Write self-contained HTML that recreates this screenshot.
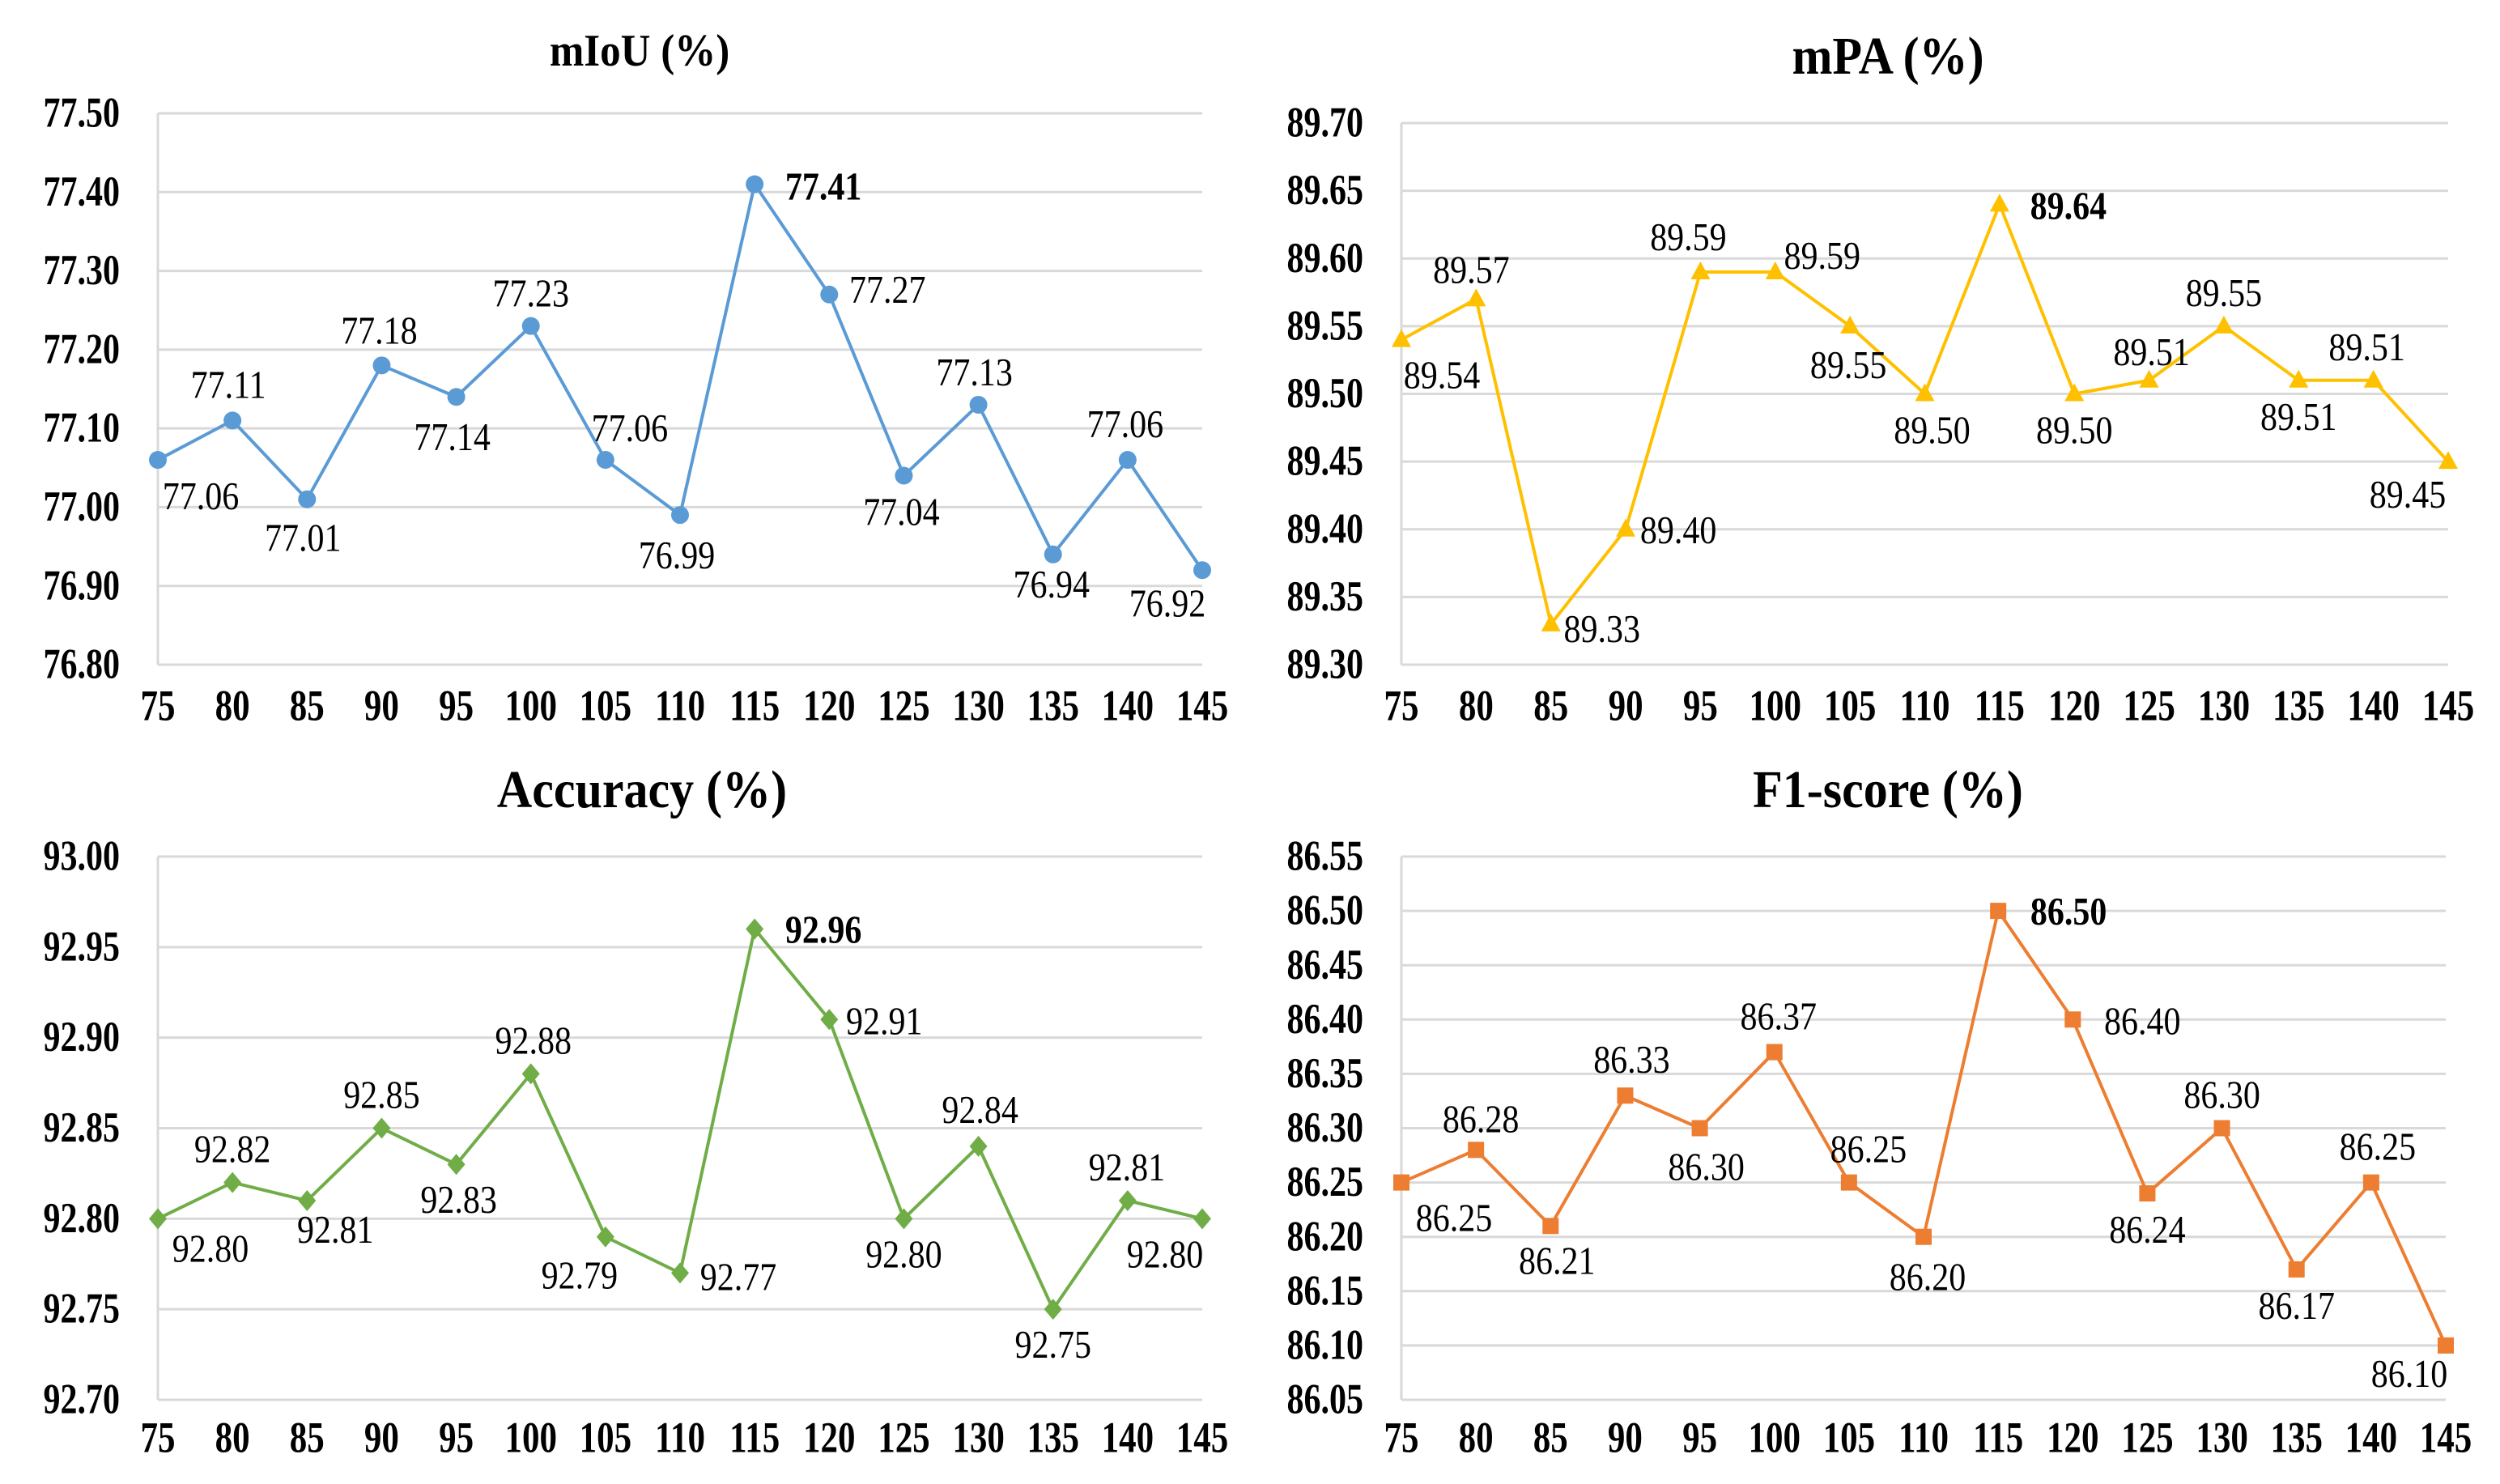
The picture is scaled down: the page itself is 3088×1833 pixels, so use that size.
<!DOCTYPE html>
<html><head><meta charset="utf-8"><style>
html,body{margin:0;padding:0;background:#fff;}
svg{display:block;font-family:"Liberation Serif",serif;}
</style></head><body>
<svg id="c" width="3088" height="1833" viewBox="0 0 3088 1833" xmlns="http://www.w3.org/2000/svg"></svg>
<script>
const categories = [75,80,85,90,95,100,105,110,115,120,125,130,135,140,145];
const miouValues = [77.06,77.11,77.01,77.18,77.14,77.23,77.06,76.99,77.41,77.27,77.04,77.13,76.94,77.06,76.92];
const mpaValues = [89.54,89.57,89.33,89.40,89.59,89.59,89.55,89.50,89.64,89.50,89.51,89.55,89.51,89.51,89.45];
const accValues = [92.80,92.82,92.81,92.85,92.83,92.88,92.79,92.77,92.96,92.91,92.80,92.84,92.75,92.81,92.80];
const f1Values = [86.25,86.28,86.21,86.33,86.30,86.37,86.25,86.20,86.50,86.40,86.24,86.30,86.17,86.25,86.10];
const miouTicks = ["76.80","76.90","77.00","77.10","77.20","77.30","77.40","77.50"];
const mpaTicks = ["89.30","89.35","89.40","89.45","89.50","89.55","89.60","89.65","89.70"];
const accTicks = ["92.70","92.75","92.80","92.85","92.90","92.95","93.00"];
const f1Ticks = ["86.05","86.10","86.15","86.20","86.25","86.30","86.35","86.40","86.45","86.50","86.55"];

const NS="http://www.w3.org/2000/svg";
const svg=document.getElementById('c');
function mk(tag,attrs,parent){const e=document.createElementNS(NS,tag);for(const k in attrs)e.setAttribute(k,attrs[k]);(parent||svg).appendChild(e);return e;}
function txt(parent,x,y,sy,attrs,s){
  const e=mk('text',Object.assign({x:0,y:0,'dominant-baseline':'central',fill:'#000',transform:`translate(${x},${y}) scale(1,${sy})`},attrs),parent);
  e.textContent=s;return e;
}

const panels=[
 {key:'miou',title:'mIoU (%)',tfs:51,vals:miouValues,ticks:miouTicks,color:'#5b9bd5',marker:'circle',
  L:195,R:1485,T:140,B:821,tx:790,ty:62,labR:148,xly:872,
  off:[[53,45],[-5,-44],[-5,48],[-3,-43],[-5,50],[0,-40],[30,-39],[-4,50],[85,3],[72,-6],[-3,45],[-5,-40],[-2,37],[-3,-44],[-43,41]]},
 {key:'mpa',title:'mPA (%)',tfs:60,vals:mpaValues,ticks:mpaTicks,color:'#ffc000',marker:'triangle',
  L:1731,R:3024,T:152,B:821,tx:2332,ty:69,labR:1684,xly:872,
  off:[[50,44],[-6,-36],[63,6],[65,1],[-15,-43],[58,-20],[-2,48],[9,45],[85,2],[0,45],[3,-35],[0,-41],[0,45],[-8,-41],[-50,41]]},
 {key:'accuracy',title:'Accuracy (%)',tfs:60,vals:accValues,ticks:accTicks,color:'#70ad47',marker:'diamond',
  L:195,R:1485,T:1058,B:1729,tx:793,ty:975,labR:148,xly:1776,
  off:[[65,37],[0,-41],[35,36],[0,-41],[3,44],[3,-41],[-32,48],[72,5],[85,1],[68,2],[0,44],[2,-45],[0,44],[-1,-41],[-46,44]]},
 {key:'f1',title:'F1-score (%)',tfs:60,vals:f1Values,ticks:f1Ticks,color:'#ed7d31',marker:'square',
  L:1731,R:3021,T:1058,B:1729,tx:2332,ty:975,labR:1684,xly:1776,
  off:[[65,44],[6,-38],[8,43],[8,-44],[8,48],[5,-44],[24,-41],[5,50],[87,1],[86,2],[0,45],[0,-41],[0,45],[8,-44],[-45,35]]}
];

panels.forEach(p=>{
  const g=mk('g',{});
  
  
  const tmin=parseFloat(p.ticks[0]), tmax=parseFloat(p.ticks[p.ticks.length-1]);
  const y=v=>p.B-(v-tmin)/(tmax-tmin)*(p.B-p.T);
  const x=i=>p.L+i*(p.R-p.L)/(categories.length-1);
  const t=txt(g,p.tx,p.ty,1.1,{'text-anchor':'middle','font-size':p.tfs,'font-weight':'bold'},p.title);
  
  
  p.ticks.forEach(tk=>{
    const v=parseFloat(tk);
    const gl=mk('line',{x1:p.L,x2:p.R,y1:y(v),y2:y(v),stroke:'#d9d9d9','stroke-width':3},g);
    
    
    const tl=txt(g,p.labR,y(v),1.25,{'text-anchor':'end','font-size':42,'font-weight':'bold'},tk);
    
    
  });
  const ax=mk('line',{x1:p.L,x2:p.L,y1:p.T,y2:p.B,stroke:'#d9d9d9','stroke-width':3},g);
  
  
  categories.forEach((c,i)=>{
    const xl=txt(g,x(i),p.xly,1.25,{'text-anchor':'middle','font-size':43,'font-weight':'bold'},String(c));
    
    
  });
  const pts=p.vals.map((v,i)=>x(i)+','+y(v)).join(' ');
  const line=mk('polyline',{points:pts,fill:'none',stroke:p.color,'stroke-width':4,'stroke-linejoin':'round'},g);
  
  
  const maxV=Math.max(...p.vals);
  p.vals.forEach((v,i)=>{
    const cx=x(i), cy=y(v);
    let m;
    if(p.marker==='circle') m=mk('circle',{cx:cx,cy:cy,r:11,fill:p.color},g);
    else if(p.marker==='triangle') m=mk('polygon',{points:`${cx},${cy-13} ${cx+12},${cy+9} ${cx-12},${cy+9}`,fill:p.color},g);
    else if(p.marker==='diamond') m=mk('polygon',{points:`${cx},${cy-13} ${cx+11},${cy} ${cx},${cy+13} ${cx-11},${cy}`,fill:p.color},g);
    else m=mk('rect',{x:cx-10,y:cy-10,width:20,height:20,fill:p.color},g);
    
    
    const o=p.off[i];
    const a={'text-anchor':'middle','font-size':42};
    if(v===maxV) a['font-weight']='bold';
    const lb=txt(g,cx+o[0],cy+o[1],1.15,a,v.toFixed(2));
    
    
  });
});
</script>
</body></html>
